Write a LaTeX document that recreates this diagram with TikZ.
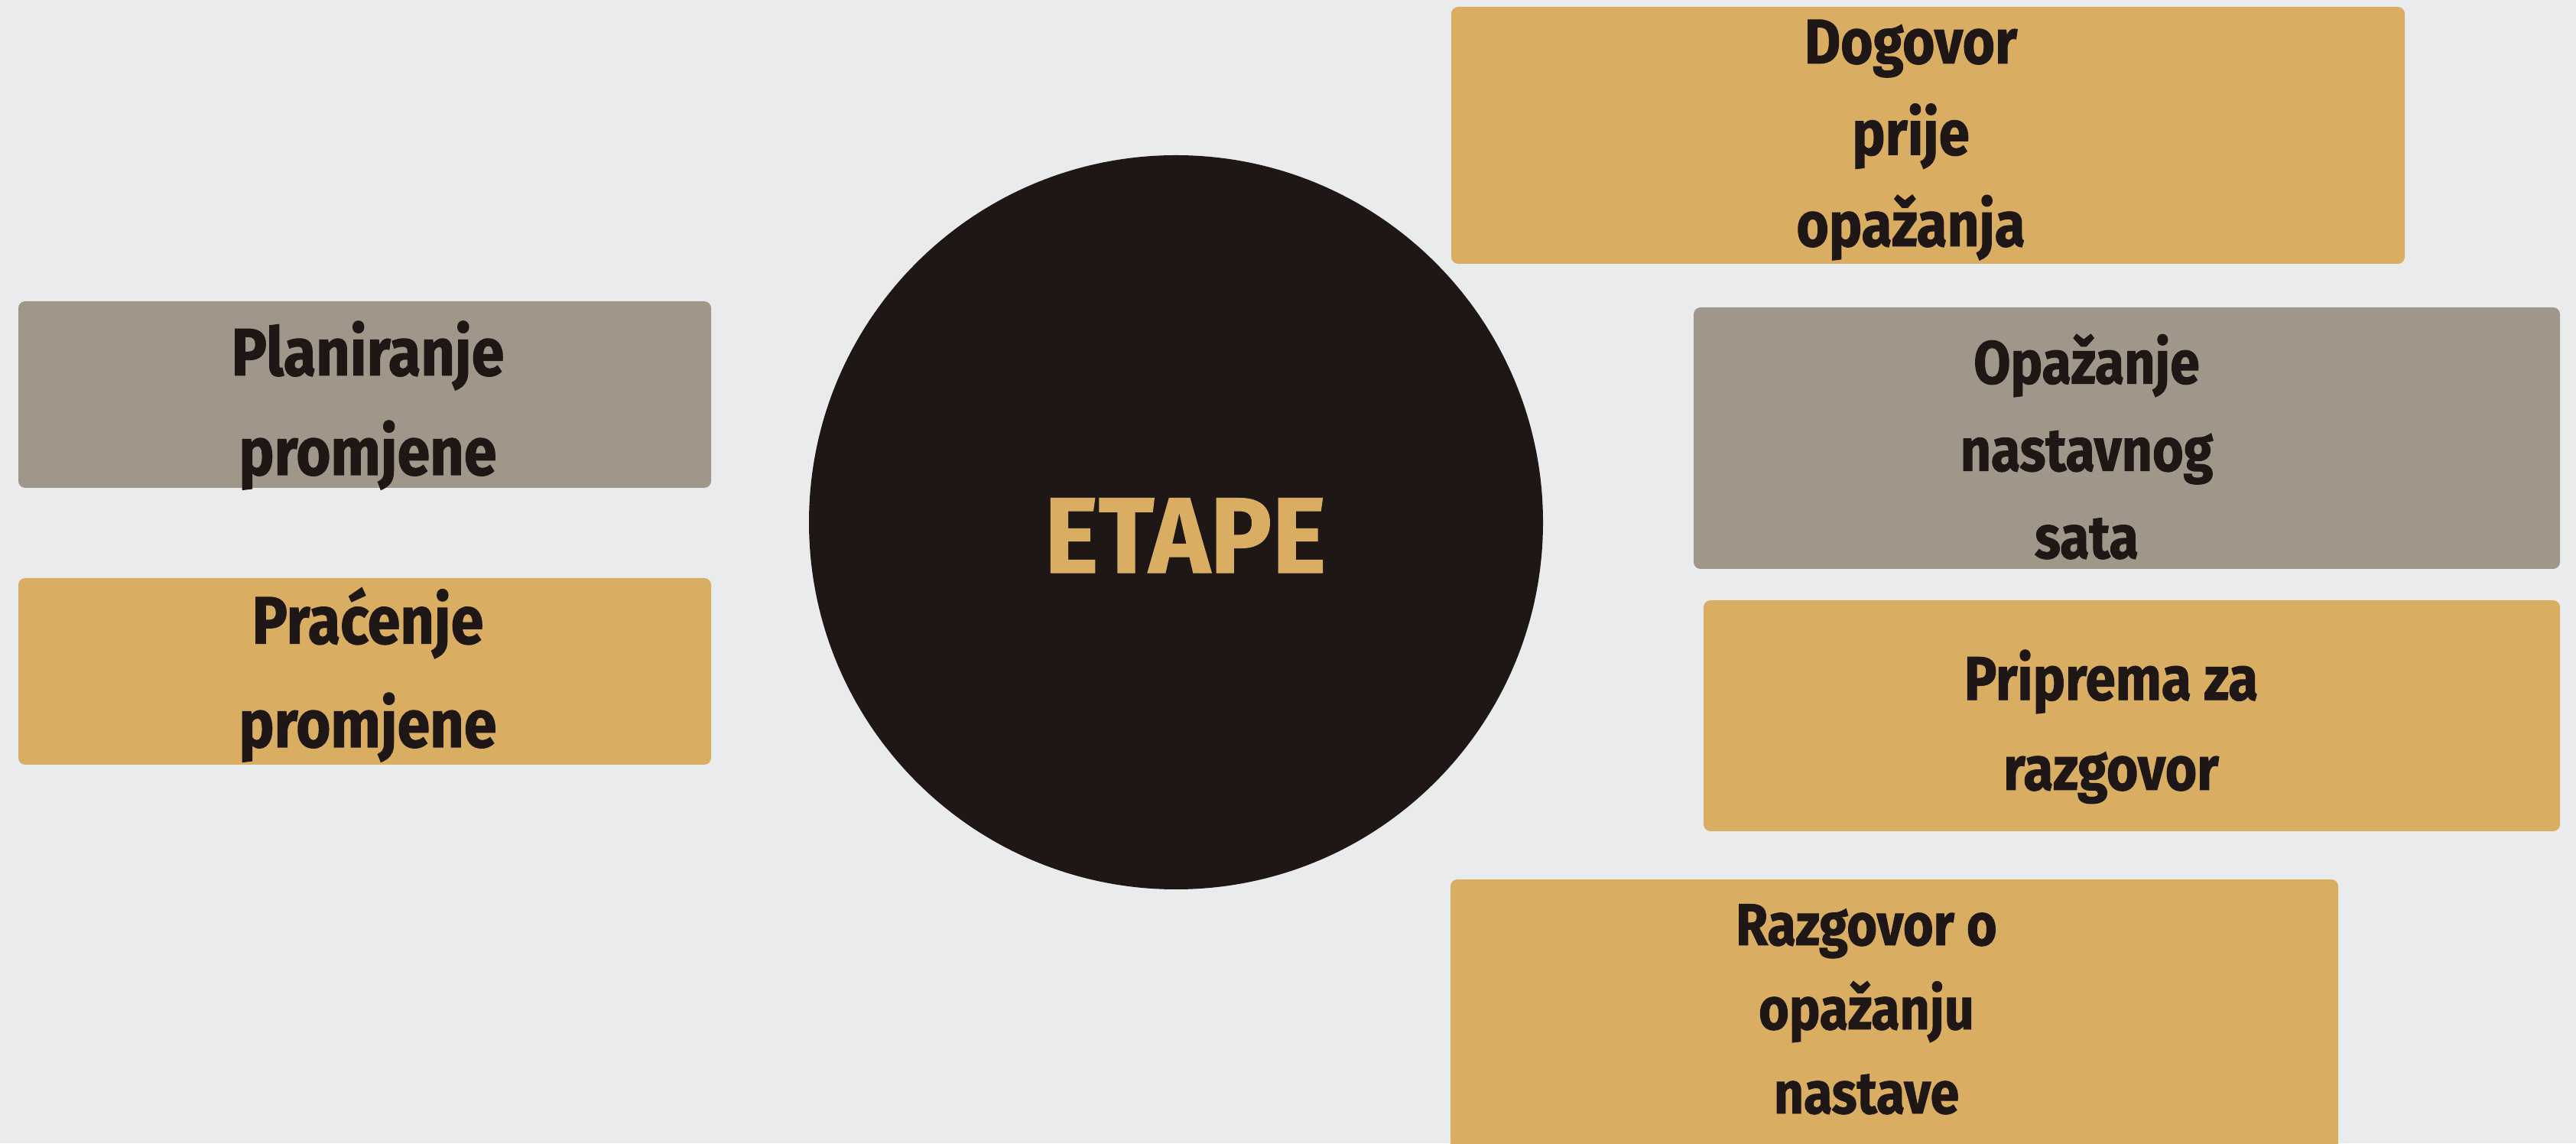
\documentclass[tikz,border=0pt]{standalone}
\usepackage{fontspec}
\newfontfamily\boxfont{Fira Sans}[FakeStretch=0.88, BoldFeatures={FakeBold=1.2}]
\newfontfamily\titlefont{Fira Sans}[FakeStretch=0.96, BoldFeatures={FakeBold=0.8}]
\usepackage{tikz}

\definecolor{pagebg}{HTML}{EAEBED}
\definecolor{gold}{HTML}{D9AE63}
\definecolor{stone}{HTML}{A09689}
\definecolor{ink}{HTML}{1F1716}

\begin{document}
\begin{tikzpicture}[
    card/.style={rounded corners=0.09cm},
    cardtext/.style={align=center, anchor=base, text=ink, inner sep=0pt},
    bigtext/.style={font=\boxfont\bfseries\fontsize{25}{37}\selectfont},
    midtext/.style={font=\boxfont\bfseries\fontsize{23}{33.5}\selectfont}
]
\useasboundingbox (0, 0) rectangle (33.69, 14.95);
\clip (0, 0) rectangle (33.69, 14.95);
\fill[pagebg] (0, 0) rectangle (33.69, 14.95);

% left column (text placed by its last baseline)
\fill[stone, card] (0.24, 11.01) rectangle (9.30, 8.57);
\fill[gold, card] (0.24, 7.39) rectangle (9.30, 4.95);
\node[cardtext, bigtext] (plan) at (4.81, 8.74) {Planiranje \\ promjene};
\node[cardtext, bigtext, font=\boxfont\bfseries\fontsize{25}{38.5}\selectfont] (prac) at (4.81, 5.18) {Praćenje \\ promjene};

% centre
\fill[ink] (15.38, 8.12) circle (4.80);
\node[anchor=base, inner sep=0pt, text=gold, font=\titlefont\bfseries\fontsize{40}{48}\selectfont] (etape) at (15.50, 7.46) {ETAPE};

% right column
\fill[gold, card] (18.98, 14.86) rectangle (31.45, 11.50);
\fill[stone, card] (22.15, 10.93) rectangle (33.48, 7.51);
\fill[gold, card] (22.28, 7.10) rectangle (33.48, 4.08);
\fill[gold, card] (18.97, 3.45) rectangle (30.58, -0.5);
\node[cardtext, midtext, font=\boxfont\bfseries\fontsize{23.5}{34}\selectfont] (dog) at (24.99, 11.73) {Dogovor \\ prije \\ opažanja};
\node[cardtext, midtext, font=\boxfont\bfseries\fontsize{22.6}{32.5}\selectfont] (opaz) at (27.29, 7.65) {Opažanje \\ nastavnog \\ sata};
\node[cardtext, midtext] (prip) at (27.61, 4.62) {Priprema za \\ razgovor};
\node[cardtext, midtext, font=\boxfont\bfseries\fontsize{22}{31.3}\selectfont] (razg) at (24.41, 0.39) {Razgovor o \\ opažanju \\ nastave};
\end{tikzpicture}
\end{document}
